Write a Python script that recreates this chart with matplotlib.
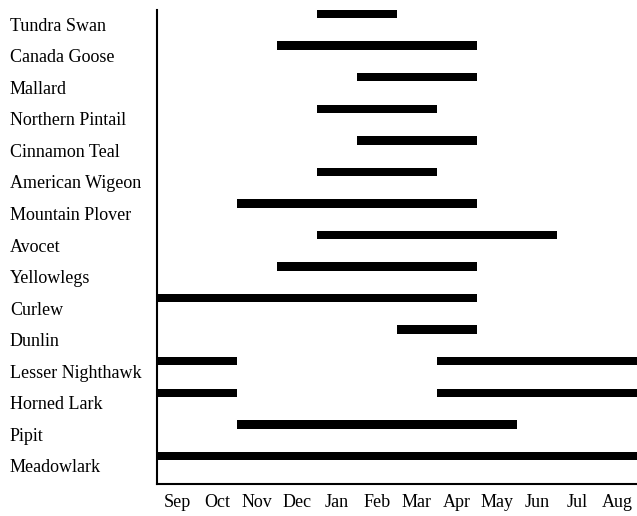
import matplotlib.pyplot as plt
import matplotlib.transforms as mtransforms

months = ["Sep", "Oct", "Nov", "Dec", "Jan", "Feb", "Mar", "Apr", "May", "Jun", "Jul", "Aug"]

birds = ["Tundra Swan", "Canada Goose", "Mallard", "Northern Pintail", "Cinnamon Teal",
         "American Wigeon", "Mountain Plover", "Avocet", "Yellowlegs", "Curlew",
         "Dunlin", "Lesser Nighthawk", "Horned Lark", "Pipit", "Meadowlark"]

# (start month index, end month index), Sep = 0
spans = [
    [(4, 6)],
    [(3, 8)],
    [(5, 8)],
    [(4, 7)],
    [(5, 8)],
    [(4, 7)],
    [(2, 8)],
    [(4, 10)],
    [(3, 8)],
    [(0, 8)],
    [(6, 8)],
    [(0, 2), (7, 12)],
    [(0, 2), (7, 12)],
    [(2, 9)],
    [(0, 12)],
]

plt.rcParams['font.family'] = ['Liberation Serif', 'DejaVu Serif']

fig = plt.figure(figsize=(6.37, 5.16), dpi=100)
ax = fig.add_axes([157 / 637, 32 / 516, 480 / 637, 474 / 516])

for i, s in enumerate(spans):
    ax.broken_barh([(a, b - a) for a, b in s], (i - 0.135, 0.27),
                   facecolor="black", edgecolor="none", zorder=2)

ax.set_xlim(0, 12)
ax.set_ylim(14.89, -0.13)

ax.set_xticks([m + 0.5 for m in range(12)])
ax.set_xticklabels(months, fontsize=13)
ax.tick_params(axis="x", length=0, pad=7)
ax.set_yticks([])

for side in ["top", "right"]:
    ax.spines[side].set_visible(False)
ax.spines["left"].set_linewidth(1.5)
ax.spines["bottom"].set_linewidth(1.5)

trans = mtransforms.blended_transform_factory(fig.transFigure, ax.transData)
for i, name in enumerate(birds):
    ax.text(10 / 637, i + 0.38, name, transform=trans, fontsize=13,
            ha="left", va="center")

fig.savefig("out.png", dpi=100)
